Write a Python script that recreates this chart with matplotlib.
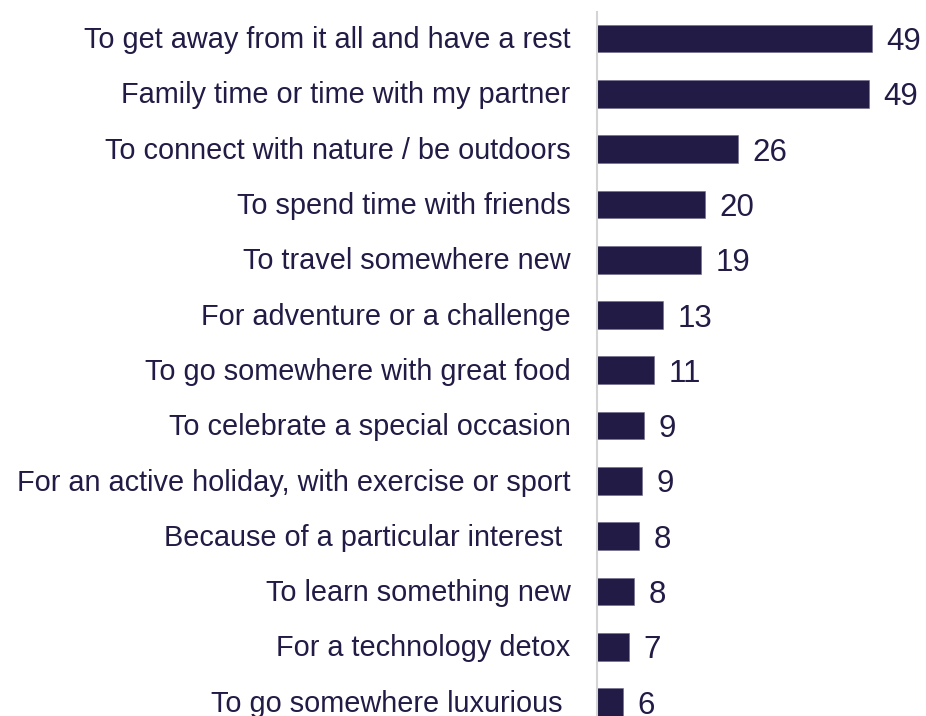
import matplotlib
matplotlib.use("Agg")
import matplotlib.pyplot as plt
from matplotlib.transforms import ScaledTranslation

categories = [
    "To get away from it all and have a rest",
    "Family time or time with my partner",
    "To connect with nature / be outdoors",
    "To spend time with friends",
    "To travel somewhere new",
    "For adventure or a challenge",
    "To go somewhere with great food",
    "To celebrate a special occasion",
    "For an active holiday, with exercise or sport",
    "Because of a particular interest ",
    "To learn something new",
    "For a technology detox",
    "To go somewhere luxurious ",
]
values = [49.3, 48.8, 25.9, 20.0, 19.4, 12.8, 11.1, 9.4, 9.1, 8.5, 7.7, 6.7, 5.7]
value_labels = ["49", "49", "26", "20", "19", "13", "11", "9", "9", "8", "8", "7", "6"]

navy = "#221b45"
plt.rcParams["font.family"] = ["Liberation Sans", "DejaVu Sans"]

W, H = 926, 716
fig = plt.figure(figsize=(W / 100, H / 100), dpi=100)
ax_left = 597 / W
ax_top_px = 12
ax = fig.add_axes([ax_left, 0, 1 - ax_left, (H - ax_top_px) / H])

y = list(range(len(categories)))
ax.barh(y, values, height=0.5, color=navy, edgecolor="#6d6988", linewidth=0.4, zorder=2)

val_fs = 22.5
for yi, v, lab in zip(y, values, value_labels):
    ax.annotate(lab, xy=(v, yi), xytext=(10.5, -8.3), textcoords="offset points",
                ha="left", va="baseline", fontsize=val_fs, color=navy)

scale = 5.7  # px per unit
xmin = 1.14
ax.set_xlim(xmin, xmin + (W - 597) / scale)
spacing = 55.3
first_c = 38.5
ax.set_ylim((H - first_c) / spacing, (ax_top_px - first_c) / spacing)

ax.set_yticks(y)
ax.set_yticklabels(categories, fontsize=20.8, color=navy)
ax.tick_params(axis="y", length=0, pad=19)
shift = ScaledTranslation(0, 1.0 / 72, fig.dpi_scale_trans)
for lbl in ax.get_yticklabels():
    lbl.set_transform(lbl.get_transform() + shift)
ax.set_xticks([])
for s in ["top", "right", "bottom"]:
    ax.spines[s].set_visible(False)
ax.spines["left"].set_color("#d4d4d4")
ax.spines["left"].set_linewidth(1.5)
ax.spines["left"].set_zorder(3)

fig.savefig("out.png", dpi=100)
